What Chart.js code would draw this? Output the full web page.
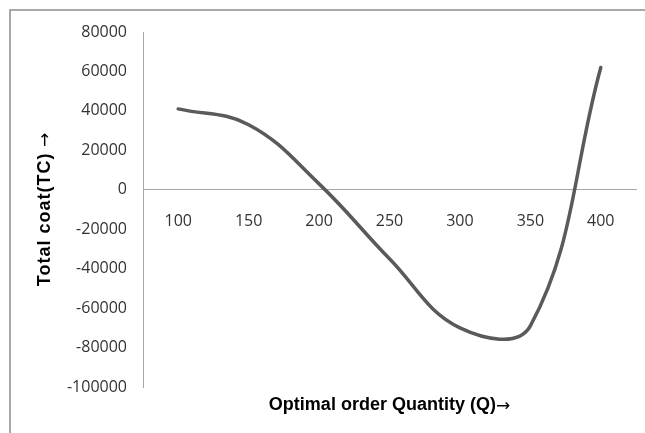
<!DOCTYPE html>
<html lang="en">
  <head>
    <meta charset="UTF-8" />
    <title>Total cost vs optimal order quantity</title>
    <script src="https://cdn.jsdelivr.net/npm/chart.js"></script>
    <style>
      body {
        margin: 0;
        background: #ffffff;
      }
      .chart-box {
        width: 645px;
        height: 433px;
        position: relative;
      }
    </style>
  </head>
  <body>
    <div class="chart-box">
      <canvas id="tcChart" width="645" height="433"></canvas>
    </div>

    <script>
      // data
      const quantities = ["100", "150", "200", "250", "300", "350", "400"];
      const totalCost = [41000, 33000, 3000, -35000, -70000, -69000, 62000];
      const yTicks = [80000, 60000, 40000, 20000, 0, -20000, -40000, -60000, -80000, -100000];

      const xTitle = "Optimal order Quantity (Q)";
      const yTitle = "Total coat(TC)";
      const arrow = "\u2192";

      // frame lines + axis titles drawn on the canvas
      const decorPlugin = {
        id: "decor",
        beforeDraw(chart) {
          const ctx = chart.ctx;
          ctx.save();
          ctx.strokeStyle = "#8c8c8c";
          ctx.lineWidth = 1.5;
          ctx.beginPath();
          ctx.moveTo(10, 433);
          ctx.lineTo(10, 10);
          ctx.lineTo(645, 10);
          ctx.stroke();
          ctx.restore();
        },
        afterDraw(chart) {
          const ctx = chart.ctx;
          const area = chart.chartArea;
          const boldFont = "bold 18px 'Liberation Sans', Arial, sans-serif";
          const arrowFont = "17px 'DejaVu Sans', sans-serif";
          ctx.save();
          ctx.fillStyle = "#000000";
          ctx.textBaseline = "middle";
          ctx.textAlign = "left";

          // x title
          ctx.font = boldFont;
          const wx = ctx.measureText(xTitle).width;
          ctx.font = arrowFont;
          const wa = ctx.measureText(arrow).width;
          const x0 = (area.left + area.right) / 2 - (wx + wa) / 2;
          ctx.font = boldFont;
          ctx.fillText(xTitle, x0, 405);
          ctx.font = arrowFont;
          ctx.fillText(arrow, x0 + wx, 407);

          // y title, rotated
          ctx.translate(45, (area.top + area.bottom) / 2);
          ctx.rotate(-Math.PI / 2);
          ctx.font = boldFont;
          ctx.letterSpacing = "1px";
          const wy = ctx.measureText(yTitle).width;
          ctx.letterSpacing = "0px";
          ctx.font = arrowFont;
          const wya = ctx.measureText(" " + arrow).width;
          const y0 = -(wy + wya) / 2;
          ctx.font = boldFont;
          ctx.letterSpacing = "1px";
          ctx.fillText(yTitle, y0, 0);
          ctx.letterSpacing = "0px";
          ctx.font = arrowFont;
          ctx.fillText(" " + arrow, y0 + wy, 1);
          ctx.restore();
        },
      };

      new Chart(document.getElementById("tcChart"), {
        type: "line",
        data: {
          labels: quantities,
          datasets: [
            {
              label: "Total cost",
              data: totalCost,
              borderColor: "#5a5a5a",
              borderWidth: 3.5,
              borderCapStyle: "round",
              pointRadius: 0,
              tension: 0.4,
              fill: false,
            },
          ],
        },
        options: {
          responsive: false,
          animation: false,
          layout: {
            padding: { left: 0, top: 32, right: 9, bottom: 46 },
          },
          plugins: {
            legend: { display: false },
            tooltip: { enabled: false },
          },
          scales: {
            x: {
              type: "category",
              position: { y: 0 },
              offset: true,
              grid: { display: true, drawOnChartArea: false, drawTicks: false },
              border: { display: true, color: "#a6a6a6", width: 1 },
              ticks: {
                padding: 22,
                color: "#333333",
                font: { family: "'Open Sans'", size: 16 },
                maxRotation: 0,
              },
            },
            y: {
              min: -100000,
              max: 80000,
              afterFit(scale) {
                scale.width = 143;
              },
              afterBuildTicks(scale) {
                scale.ticks = yTicks.map((v) => ({ value: v }));
              },
              grid: { display: true, drawOnChartArea: false, drawTicks: false },
              border: { display: true, color: "#a6a6a6", width: 1 },
              ticks: {
                padding: 16,
                color: "#333333",
                font: { family: "'Open Sans'", size: 16 },
                callback: (v) => String(v),
              },
            },
          },
        },
        plugins: [decorPlugin],
      });
    </script>
  </body>
</html>
